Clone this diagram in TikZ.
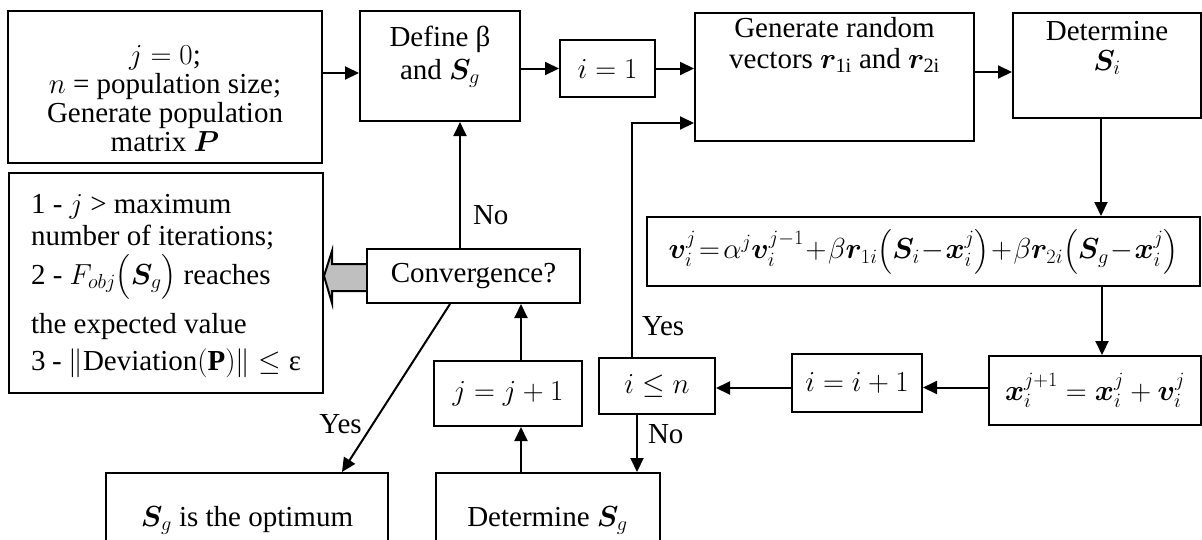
\documentclass[tikz,border=0pt]{standalone}
\usepackage{fix-cm}
\usepackage{amsmath}
\usepackage{bm}
\usepackage{fontspec}
\setmainfont{Liberation Serif}
\usepackage{tikz}
\usetikzlibrary{arrows.meta, positioning, calc, backgrounds}
\newcommand{\boxlines}[1]{\begin{tabular}[t]{@{}c@{}}#1\end{tabular}}

\begin{document}
\begin{tikzpicture}[
  x=1pt, y=-1pt,
  font=\fontsize{29}{29}\selectfont,
  box/.style={draw, inner sep=0pt, line width=2pt},
  arr/.style={-{Triangle[length=14pt,width=13pt]}, line width=2pt},
  lbl/.style={inner sep=0pt},
  blockarr/.style={draw, fill=gray!50, line width=2pt, line join=miter},
]
  \useasboundingbox (0,0) rectangle (1202,539);

  % --- top row -----------------------------------------------------
  \node[box, anchor=north, minimum width=314pt, text height=53pt, text depth=99pt] (init) at (165,10)
    {\boxlines{$j=0$;\\$n$ = population size;\\Generate population\\matrix $\bm{P}$}};
  \node[box, anchor=north, minimum width=160pt, text height=35pt, text depth=75pt] (defb) at (440,10)
    {\boxlines{Define β\\[4pt]and $\bm{S}_g$}};
  \node[box, minimum width=95pt, minimum height=57pt] (ione) at (607.5,68.5) {$i=1$};
  \node[box, anchor=north, minimum width=279pt, text height=24pt, text depth=104pt] (gen) at (834.5,12)
    {\boxlines{Generate random\\[2pt]vectors $\bm{r}_{\mathrm{1i}}$ and $\bm{r}_{\mathrm{2i}}$}};
  \node[box, anchor=north, minimum width=188pt, text height=27pt, text depth=78pt] (dets) at (1107,12)
    {\boxlines{Determine\\[1pt]$\bm{S}_i$}};

  % --- middle ------------------------------------------------------
  \node[box, minimum width=553pt, minimum height=69pt] (vel) at (923.5,251.5)
    {$\medmuskip=1mu\thickmuskip=2mu
      \bm{v}_i^j=\alpha^j\bm{v}_i^{j-1}+\beta\bm{r}_{1i}\bigl(\bm{S}_i-\bm{x}_i^j\bigr)+\beta\bm{r}_{2i}\bigl(\bm{S}_g-\bm{x}_i^j\bigr)$};
  \node[box, minimum width=213pt, minimum height=54pt] (conv) at (473.5,276) {Convergence?};
  \node[box, anchor=north west, inner xsep=22pt, text height=40pt, text depth=180pt] (crit) at (8,172)
    {\begin{tabular}[t]{@{}p{270pt}@{}}
      1 - $j$ > maximum\\[3pt]
      number of iterations;\\[10pt]
      2 - \smash{$F_{obj}\bigl(\bm{S}_g\bigr)$} reaches\\[20pt]
      the expected value\\[7pt]
      3 - $\|\text{Deviation}(\mathbf{P})\|\le\text{ε}$
    \end{tabular}};

  % --- lower row ---------------------------------------------------
  \node[box, minimum width=212pt, minimum height=69pt] (xnew) at (1095,390.5) {$\bm{x}_i^{j+1}=\bm{x}_i^j+\bm{v}_i^j$};
  \node[box, minimum width=130pt, minimum height=58pt] (iinc) at (857,383) {$i=i+1$};
  \node[box, minimum width=116pt, minimum height=56pt] (ile) at (657,386) {$i\le n$};
  \node[box, minimum width=148pt, minimum height=65pt] (jinc) at (508,393.5) {$j=j+1$};
  \node[box, anchor=north, minimum width=282pt, text height=53pt, text depth=60pt] (opt) at (247,472)
    {$\bm{S}_g$ is the optimum};
  \node[box, anchor=north, minimum width=224pt, text height=53pt, text depth=60pt] (dsg) at (547.5,472)
    {Determine $\bm{S}_g$};

  % --- flow ----------------------------------------------------------
  \draw[arr] ([yshift=14pt]init.east) -- ([yshift=14pt]init.east -| defb.west);
  \draw[arr] (defb.east |- ione.west) -- (ione.west);
  \draw[arr] (ione.east) -- (ione.east -| gen.west);
  \draw[arr] ([yshift=5pt]gen.east) -- ([yshift=5pt]gen.east -| dets.west);
  \draw[arr] ([xshift=-6pt]dets.south) -- ([xshift=-6pt]dets.south |- vel.north);
  \draw[arr] ([xshift=7pt]xnew.north |- vel.south) -- ([xshift=7pt]xnew.north);
  \draw[arr] ([yshift=3pt]xnew.west) -- ([yshift=3pt]xnew.west -| iinc.east);
  \draw[arr] ([yshift=-5pt]iinc.west) -- ([yshift=-5pt]iinc.west -| ile.east);
  \draw[arr] ([xshift=-25pt]ile.north) |- ([yshift=-46pt]gen.west)
    node[lbl, pos=0.066, right=9pt] {Yes};
  \draw[arr] ([xshift=-20pt]ile.south) -- ([xshift=-20pt]ile.south |- dsg.north)
    node[lbl, pos=0.34, right=10pt] {No};
  \draw[arr] ([xshift=13pt]jinc.south |- dsg.north) -- ([xshift=13pt]jinc.south);
  \draw[arr] ([xshift=13pt]jinc.north) -- ([xshift=13pt]jinc.north |- conv.south);
  \draw[arr] ([xshift=-13.5pt]conv.north) -- ([xshift=-13.5pt]conv.north |- defb.south)
    node[lbl, pos=0.26, right=12pt] {No};
  \draw[arr] ([xshift=-23.5pt]conv.south) -- ([xshift=95pt]opt.north)
    node[lbl, pos=0.716, left=10pt] {Yes};

  % hollow arrow to the stop criteria
  \begin{scope}[on background layer]
    \draw[blockarr] ([yshift=12pt]conv.west) -- ([xshift=-34pt,yshift=12pt]conv.west)
      -- ([xshift=-34pt,yshift=25pt]conv.west) -- (crit.east |- conv.west)
      -- ([xshift=-34pt,yshift=-27pt]conv.west) -- ([xshift=-34pt,yshift=-15pt]conv.west)
      -- ([yshift=-15pt]conv.west);
  \end{scope}
\end{tikzpicture}
\end{document}
